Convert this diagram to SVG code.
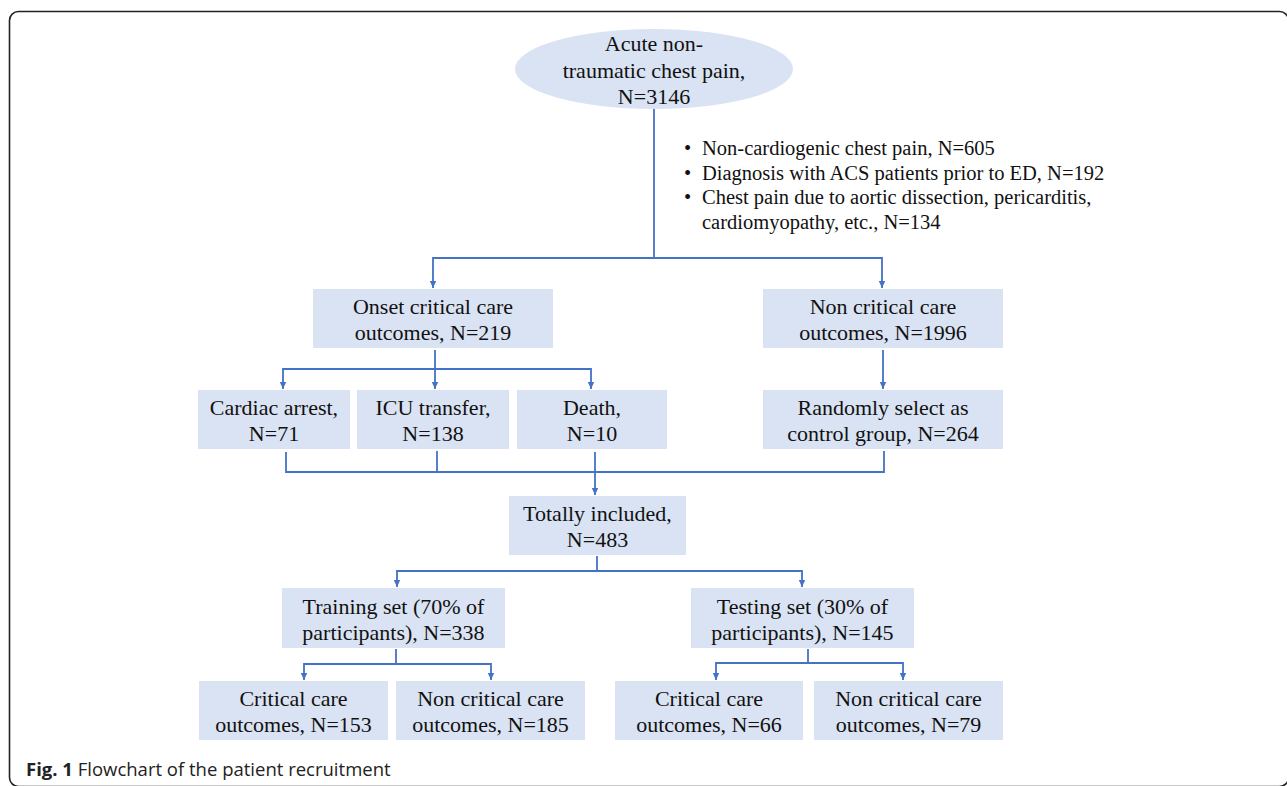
<svg xmlns="http://www.w3.org/2000/svg" width="1287" height="786" viewBox="0 0 1287 786">
<defs>
<marker id="arr" markerWidth="8" markerHeight="8" refX="7" refY="4" orient="auto" markerUnits="userSpaceOnUse">
<path d="M0,0.8 L7,4 L0,7.2 Z" fill="#4472C4"/>
</marker>
<style>
.box{fill:#DAE3F3;stroke:none}
.t{font-family:"Liberation Serif","Times New Roman",serif;font-size:22px;fill:#111;text-anchor:middle}
.b{font-family:"Liberation Serif","Times New Roman",serif;font-size:20.5px;fill:#111}
.c{fill:none;stroke:#4472C4;stroke-width:1.8}
.a{fill:none;stroke:#4472C4;stroke-width:1.8;marker-end:url(#arr)}
.cap{font-family:"Open Sans","Noto Sans",sans-serif;font-size:18.5px;fill:#222}
</style>
</defs>
<rect width="1287" height="786" fill="#ffffff"/>
<rect x="9.5" y="11.5" width="1279" height="775" rx="9" ry="9" fill="none" stroke="#222" stroke-width="1.6"/>

<g id="connectors">
<path class="c" d="M654,109 V258"/>
<path class="a" d="M654,258 H433 V288"/>
<path class="a" d="M654,258 H882 V288"/>
<path class="a" d="M435,350 V389"/>
<path class="a" d="M435,369 H283 V389"/>
<path class="a" d="M435,369 H591 V389"/>
<path class="a" d="M883,350 V389"/>
<path class="c" d="M286,452 V472 H884 V451"/>
<path class="c" d="M437,451 V472"/>
<path class="a" d="M595,452 V495"/>
<path class="c" d="M597,556 V571"/>
<path class="a" d="M597,571 H397 V587"/>
<path class="a" d="M597,571 H802 V587"/>
<path class="c" d="M396,649 V664"/>
<path class="a" d="M396,664 H304 V680"/>
<path class="a" d="M396,664 H491 V680"/>
<path class="c" d="M808,649 V663"/>
<path class="a" d="M808,663 H716 V680"/>
<path class="a" d="M808,663 H903 V680"/>
</g>

<g id="start">
<ellipse cx="654" cy="69" rx="139" ry="40" fill="#DAE3F3"/>
<text class="t" x="654" y="51">Acute non-</text>
<text class="t" x="654" y="77.5">traumatic chest pain,</text>
<text class="t" x="654" y="104">N=3146</text>
</g>

<g id="exclusions">
<text class="b" x="684" y="155">•</text>
<text class="b" x="702" y="155">Non-cardiogenic chest pain, N=605</text>
<text class="b" x="684" y="179.5">•</text>
<text class="b" x="702" y="179.5">Diagnosis with ACS patients prior to ED, N=192</text>
<text class="b" x="684" y="204">•</text>
<text class="b" x="702" y="204">Chest pain due to aortic dissection, pericarditis,</text>
<text class="b" x="702" y="228.5">cardiomyopathy, etc., N=134</text>
</g>

<g id="onset">
<rect class="box" x="313" y="289" width="240" height="59"/>
<text class="t" x="433" y="314">Onset critical care</text>
<text class="t" x="433" y="340">outcomes, N=219</text>
</g>

<g id="noncritical">
<rect class="box" x="763" y="289" width="240" height="59"/>
<text class="t" x="883" y="314">Non critical care</text>
<text class="t" x="883" y="340">outcomes, N=1996</text>
</g>

<g id="cardiac">
<rect class="box" x="198" y="390" width="152" height="59"/>
<text class="t" x="274" y="415">Cardiac arrest,</text>
<text class="t" x="274" y="441">N=71</text>
</g>

<g id="icu">
<rect class="box" x="357" y="390" width="152" height="59"/>
<text class="t" x="433" y="415">ICU transfer,</text>
<text class="t" x="433" y="441">N=138</text>
</g>

<g id="death">
<rect class="box" x="517" y="390" width="150" height="59"/>
<text class="t" x="592" y="415">Death,</text>
<text class="t" x="592" y="441">N=10</text>
</g>

<g id="random">
<rect class="box" x="763" y="390" width="240" height="59"/>
<text class="t" x="883" y="415">Randomly select as</text>
<text class="t" x="883" y="441">control group, N=264</text>
</g>

<g id="total">
<rect class="box" x="509" y="496" width="177" height="59"/>
<text class="t" x="597.5" y="521">Totally included,</text>
<text class="t" x="597.5" y="547">N=483</text>
</g>

<g id="training">
<rect class="box" x="282" y="588" width="223" height="60"/>
<text class="t" x="393.5" y="613.5">Training set (70% of</text>
<text class="t" x="393.5" y="639.5">participants), N=338</text>
</g>

<g id="testing">
<rect class="box" x="691" y="588" width="223" height="60"/>
<text class="t" x="802.5" y="613.5">Testing set (30% of</text>
<text class="t" x="802.5" y="639.5">participants), N=145</text>
</g>

<g id="train-critical">
<rect class="box" x="199" y="681" width="189" height="59"/>
<text class="t" x="293.5" y="706">Critical care</text>
<text class="t" x="293.5" y="732">outcomes, N=153</text>
</g>

<g id="train-noncritical">
<rect class="box" x="396" y="681" width="189" height="59"/>
<text class="t" x="490.5" y="706">Non critical care</text>
<text class="t" x="490.5" y="732">outcomes, N=185</text>
</g>

<g id="test-critical">
<rect class="box" x="615" y="681" width="188" height="59"/>
<text class="t" x="709" y="706">Critical care</text>
<text class="t" x="709" y="732">outcomes, N=66</text>
</g>

<g id="test-noncritical">
<rect class="box" x="814" y="681" width="189" height="59"/>
<text class="t" x="908.5" y="706">Non critical care</text>
<text class="t" x="908.5" y="732">outcomes, N=79</text>
</g>

<g id="caption">
<text class="cap" x="26" y="776"><tspan font-weight="bold">Fig. 1</tspan> Flowchart of the patient recruitment</text>
</g>
</svg>
